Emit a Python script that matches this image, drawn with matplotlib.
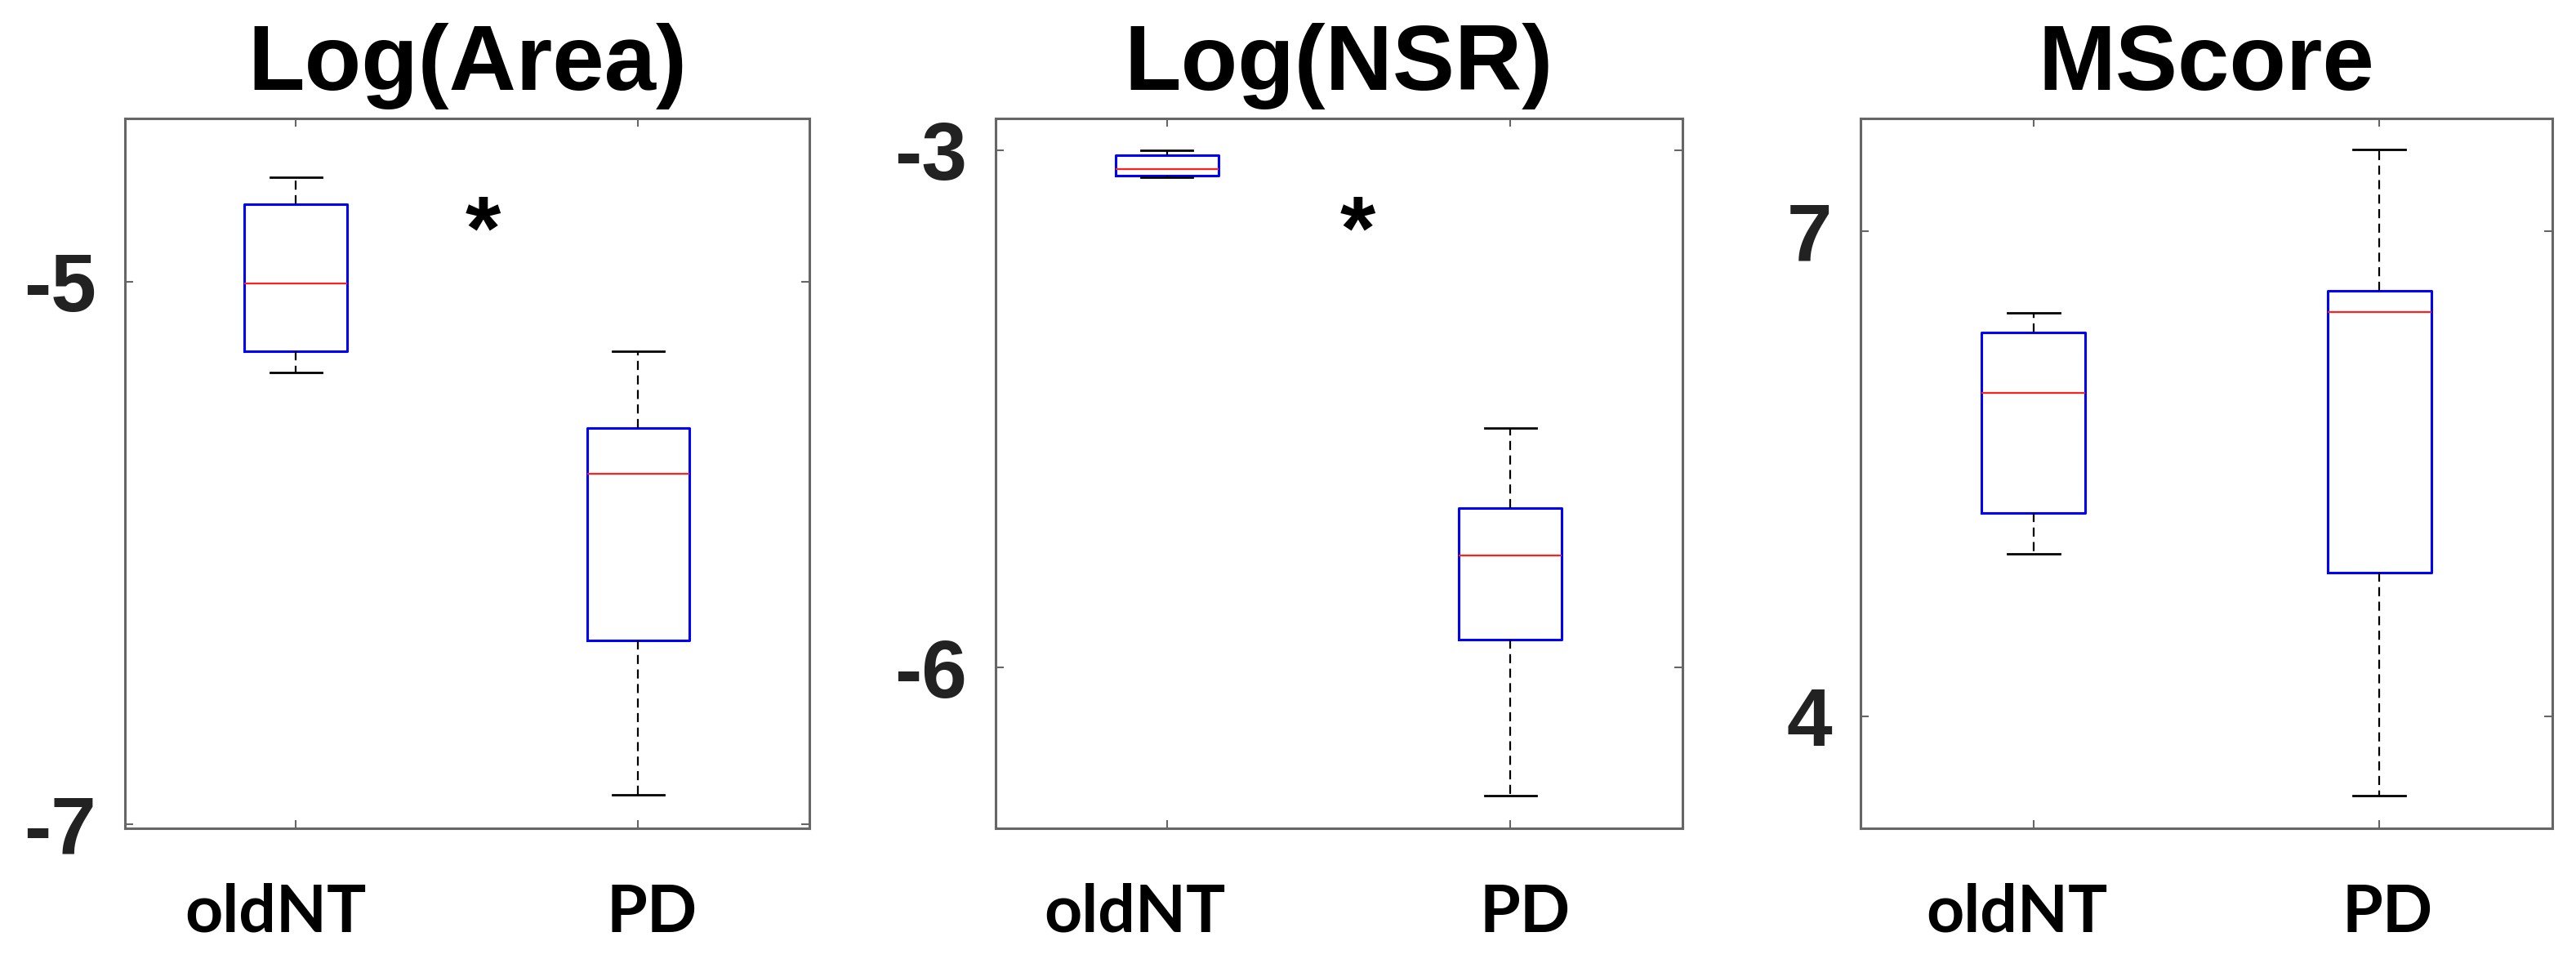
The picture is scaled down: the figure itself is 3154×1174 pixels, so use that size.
import matplotlib
matplotlib.use("Agg")
import matplotlib.pyplot as plt
import matplotlib.transforms as mtransforms

groups = ["oldNT", "PD"]
titles = ["Log(Area)", "Log(NSR)", "MScore"]

# box statistics: [oldNT, PD]
area_med = [-5.008, -5.709]
area_q1 = [-5.256, -6.324]
area_q3 = [-4.714, -5.540]
area_lo = [-5.336, -6.894]
area_hi = [-4.616, -5.256]

nsr_med = [-3.109, -5.351]
nsr_q1 = [-3.148, -5.837]
nsr_q3 = [-3.030, -5.073]
nsr_lo = [-3.157, -6.740]
nsr_hi = [-3.000, -4.612]

ms_med = [5.998, 6.500]
ms_q1 = [5.257, 4.886]
ms_q3 = [6.372, 6.629]
ms_lo = [5.005, 3.510]
ms_hi = [6.497, 7.503]

yticks = [[-7, -5], [-6, -3], [4, 7]]
ylims = [(-7.016, -4.397), (-6.93, -2.816), (3.307, 7.699)]
# significance marker (x, y) per panel, None where absent
stars = [(1.547, -4.758), (1.555, -3.383), None]

panels = [
    (area_med, area_q1, area_q3, area_lo, area_hi),
    (nsr_med, nsr_q1, nsr_q3, nsr_lo, nsr_hi),
    (ms_med, ms_q1, ms_q3, ms_lo, ms_hi),
]

fig = plt.figure(figsize=(31.54, 11.74), dpi=100)
lefts = [0.0484, 0.3864, 0.7223]
widths = [0.2658, 0.2666, 0.2684]
# the group labels sit a bit off their ticks in the original (pixels)
label_shift = [(-25, 17), (-40, 18), (-20, 10)]

spine_col = "#666666"

for i, (med, q1, q3, lo, hi) in enumerate(panels):
    ax = fig.add_axes([lefts[i], 0.1364, widths[i], 0.7404])
    stats = []
    for k in range(2):
        stats.append(dict(med=med[k], q1=q1[k], q3=q3[k],
                          whislo=lo[k], whishi=hi[k], fliers=[]))
    ax.bxp(stats, positions=[1, 2], widths=0.3, capwidths=0.15,
           showfliers=False,
           boxprops=dict(color="#0000ff", linewidth=2.2),
           medianprops=dict(color="#ff2020", linewidth=1.6),
           whiskerprops=dict(color="black", linewidth=1.6,
                             linestyle=(0, (5, 3))),
           capprops=dict(color="black", linewidth=2))

    ax.set_xlim(0.5, 2.5)
    ax.set_ylim(*ylims[i])
    ax.set_yticks(yticks[i])
    ax.set_yticklabels([str(v) for v in yticks[i]],
                       fontsize=72, fontweight="bold",
                       family="Liberation Sans", color="#222222")
    ax.set_xticks([1, 2])
    ax.set_xticklabels(groups, fontsize=58, fontweight="bold",
                       family="Lato", color="black")
    ax.tick_params(axis="both", direction="in", length=7, width=1.5,
                   color=spine_col, top=True, right=True)
    ax.tick_params(axis="y", pad=25)
    ax.tick_params(axis="x", pad=48)
    for lbl, dx in zip(ax.get_xticklabels(), label_shift[i]):
        off = mtransforms.ScaledTranslation(dx / 100, 0, fig.dpi_scale_trans)
        lbl.set_transform(lbl.get_transform() + off)
    for s in ax.spines.values():
        s.set_color(spine_col)
        s.set_linewidth(2.2)

    ax.set_title(titles[i], fontsize=82, fontweight="bold",
                 family="Liberation Sans", pad=25)

    if stars[i] is not None:
        ax.annotate("*", xy=stars[i], xytext=(0, -38),
                    textcoords="offset points", ha="center", va="baseline",
                    fontsize=80, fontweight="bold", family="Liberation Sans")

fig.savefig("out.png", dpi=100, facecolor="white")
